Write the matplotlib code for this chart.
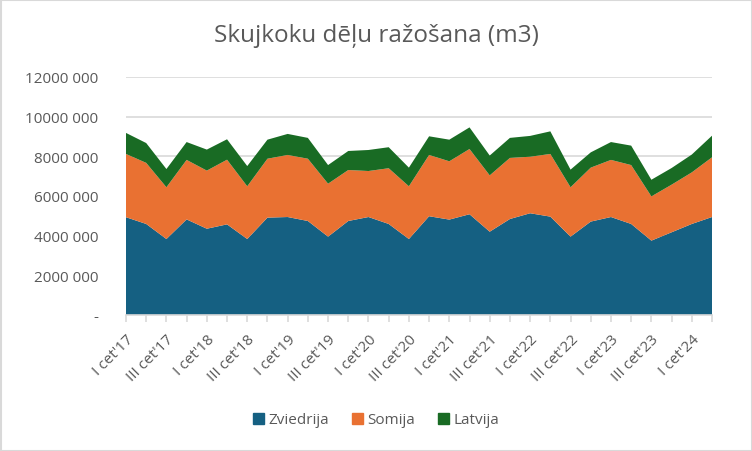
import matplotlib
matplotlib.use("Agg")
import matplotlib.pyplot as plt
from matplotlib.ticker import FuncFormatter, FixedLocator
from matplotlib.patches import Rectangle

quarters = []
for yr in range(17, 25):
    for q in ["I", "II", "III", "IV"]:
        quarters.append(f"{q} cet'{yr}")
quarters = quarters[:30]

zviedrija = [4.93, 4.59, 3.83, 4.82, 4.35, 4.57, 3.83, 4.91, 4.94, 4.74,
             3.95, 4.74, 4.94, 4.59, 3.83, 4.98, 4.81, 5.08, 4.20, 4.84,
             5.13, 4.96, 3.95, 4.71, 4.94, 4.59, 3.75, 4.17, 4.59, 4.94]
somija = [3.19, 3.08, 2.61, 3.00, 2.93, 3.26, 2.66, 2.97, 3.13, 3.14,
          2.67, 2.57, 2.32, 2.81, 2.66, 3.09, 2.94, 3.29, 2.84, 3.08,
          2.85, 3.16, 2.49, 2.72, 2.88, 2.97, 2.23, 2.40, 2.60, 3.01]
latvija = [1.06, 1.00, 0.92, 0.90, 1.06, 1.03, 1.02, 0.96, 1.06, 1.05,
           0.94, 0.96, 1.06, 1.06, 0.94, 0.94, 1.09, 1.09, 1.00, 1.01,
           1.05, 1.14, 0.89, 0.77, 0.90, 0.98, 0.84, 0.84, 0.90, 1.09]
zviedrija = [v * 1e6 for v in zviedrija]
somija = [v * 1e6 for v in somija]
latvija = [v * 1e6 for v in latvija]
series_names = ["Zviedrija", "Somija", "Latvija"]
colors = ["#156082", "#E97132", "#196B24"]
yticks = [0, 2e6, 4e6, 6e6, 8e6, 10e6, 12e6]

plt.rcParams['font.family'] = ['Open Sans', 'DejaVu Sans']
txt = "#595959"

fig = plt.figure(figsize=(7.52, 4.52), dpi=100)
ax = fig.add_axes([126/752, 1-316/452, (712-126)/752, (316-78)/452])

x = list(range(len(quarters)))
ax.stackplot(x, zviedrija, somija, latvija, colors=colors, labels=series_names,
             linewidth=0, zorder=2)
ax.set_xlim(0, len(quarters) - 1)
ax.set_ylim(0, 12e6)
ax.yaxis.set_major_locator(FixedLocator(yticks))
ax.yaxis.set_major_formatter(FuncFormatter(
    lambda v, p: "-" if v == 0 else f"{int(v // 1000)} 000"))
ax.grid(axis='y', color="#d9d9d9", linewidth=1.2, zorder=0)
ax.set_axisbelow(True)
for s in ["top", "right", "left"]:
    ax.spines[s].set_visible(False)
ax.spines["bottom"].set_color("#d9d9d9")
ax.spines["bottom"].set_linewidth(1.2)
ax.spines["bottom"].set_zorder(3)
ax.tick_params(axis='y', length=0, pad=20, labelsize=11, labelcolor=txt)
ax.set_xticks(x)
ax.set_xticklabels([q if i % 2 == 0 else "" for i, q in enumerate(quarters)],
                   rotation=45, ha='right', rotation_mode='anchor')
ax.tick_params(axis='x', length=5, width=1.2, color="#d9d9d9", pad=7,
               labelsize=11, labelcolor=txt)

fig.text(0.5, 1 - 36/452, "Skujkoku dēļu ražošana (m3)", ha='center', va='center',
         fontsize=17.5, color=txt)

handles = [Rectangle((0, 0), 1, 1, color=c) for c in colors]
fig.legend(handles, series_names, loc='center', bbox_to_anchor=(0.5, 1 - 421/452),
           ncol=3, frameon=False, fontsize=11, labelcolor=txt,
           handlelength=0.7, handleheight=0.7, handletextpad=0.3, columnspacing=1.5)

fig.add_artist(Rectangle((0.5/752, 0.5/452), 1 - 1/752, 1 - 1/452,
                         transform=fig.transFigure, fill=False,
                         edgecolor="#d9d9d9", linewidth=1.5))

fig.savefig("out.png", dpi=100)
